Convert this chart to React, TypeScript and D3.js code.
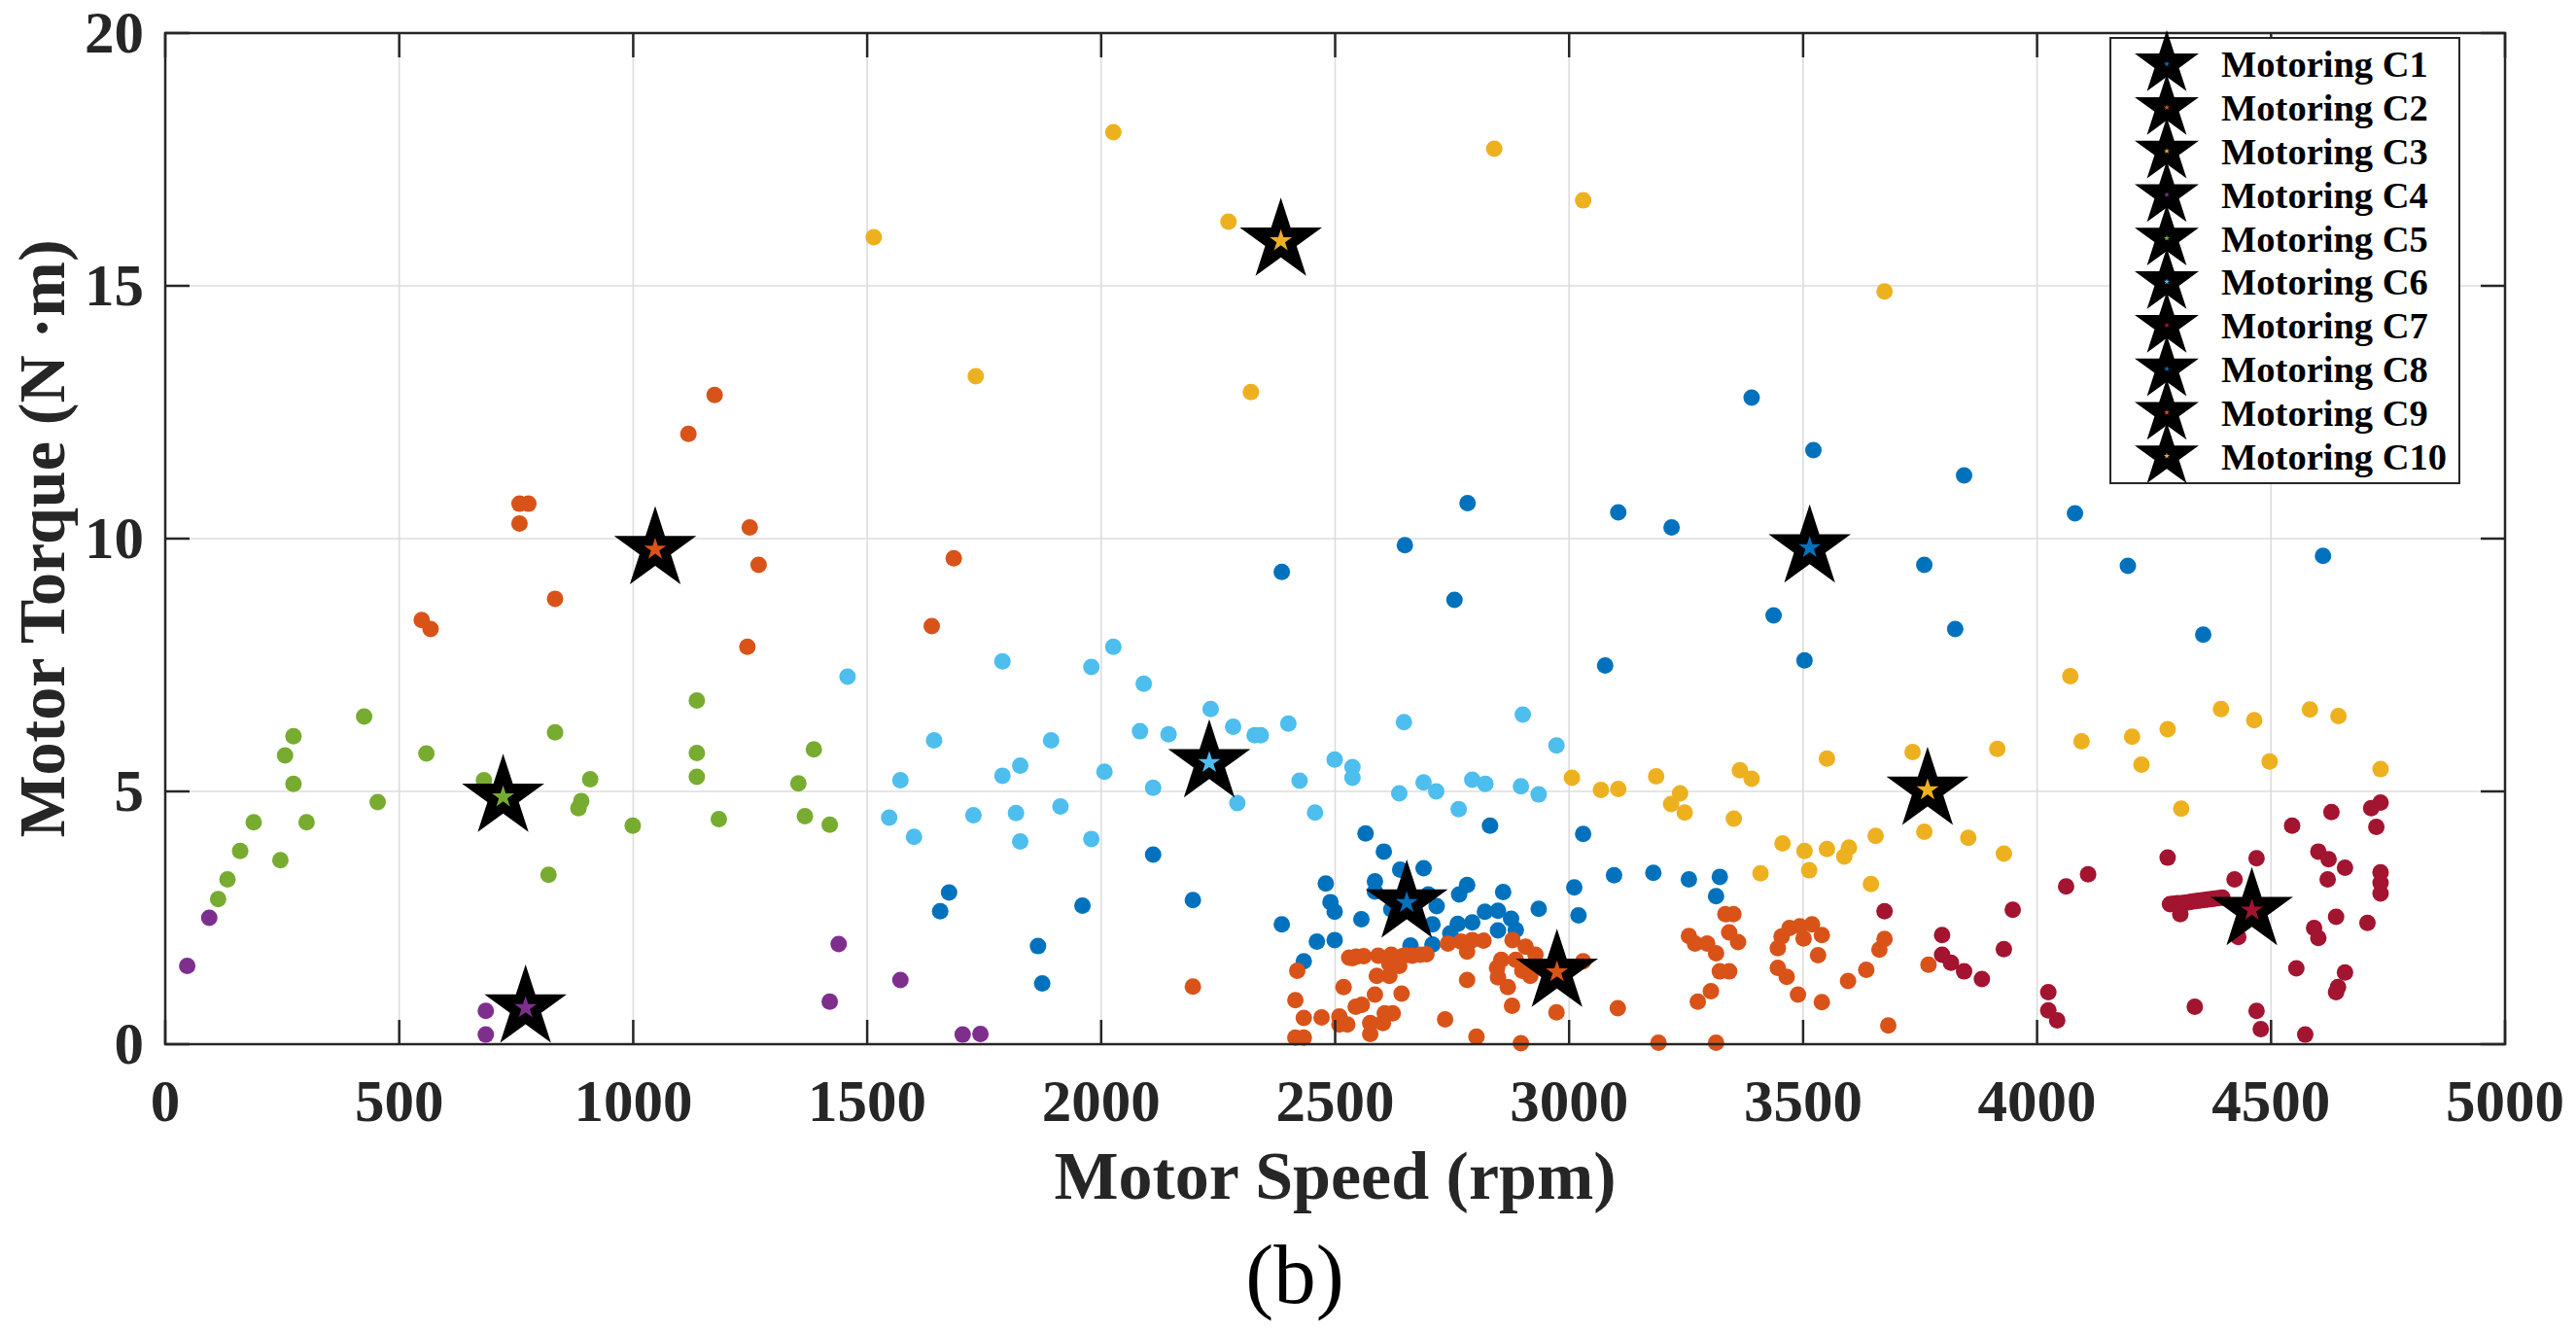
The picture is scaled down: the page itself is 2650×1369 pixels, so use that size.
import * as d3 from 'd3';
import React, { useEffect, useRef } from 'react';

// cluster labels and MATLAB default colour order (repeats after 7)
const clusterNames = ['Motoring C1', 'Motoring C2', 'Motoring C3', 'Motoring C4', 'Motoring C5',
    'Motoring C6', 'Motoring C7', 'Motoring C8', 'Motoring C9', 'Motoring C10'];
const clusterColors = ['#0072BD', '#D95319', '#EDB120', '#7E2F8E', '#77AC30',
    '#4DBEEE', '#A2142F', '#0072BD', '#D95319', '#EDB120'];

// C1 - blue, dense low cluster
const c1Speed = [1656, 1675, 1865, 1874, 1960, 2111, 2196, 2386, 2433, 2461, 2480, 2490, 2499, 2499, 2556,
    2565, 2585, 2585, 2604, 2620, 2639, 2661, 2689, 2699, 2708, 2708, 2717, 2746, 2762, 2765,
    2782, 2793, 2820, 2831, 2848, 2848, 2859, 2876, 2886, 2935, 3011, 3020, 3030, 3096, 3180,
    3256, 3314, 3322];
const c1Torque = [2.63, 3.00, 1.94, 1.20, 2.74, 3.75, 2.85, 2.37, 1.64, 2.03, 3.18, 2.81, 2.62, 2.06, 2.47,
    4.17, 3.22, 3.02, 3.81, 2.67, 3.45, 1.95, 3.48, 2.96, 2.37, 1.97, 2.73, 2.19, 2.38, 2.96,
    3.15, 2.41, 2.62, 4.32, 2.64, 2.25, 3.01, 2.48, 2.26, 2.68, 3.10, 2.55, 4.16, 3.34, 3.39,
    3.26, 2.93, 3.31];

// C2 - orange, sparse high
const c2Speed = [548, 567, 757, 757, 776, 833, 1118, 1174, 1244, 1249, 1268, 1638, 1685];
const c2Torque = [8.39, 8.21, 10.69, 10.30, 10.69, 8.81, 12.07, 12.84, 7.86, 10.22, 9.48, 8.27, 9.61];

// C3 - yellow, sparse very high
const c3Speed = [1514, 1732, 2026, 2272, 2320, 2840, 3030, 3674];
const c3Torque = [15.96, 13.21, 18.04, 16.27, 12.90, 17.71, 16.69, 14.89];

// C4 - purple
const c4Speed = [47, 94, 685, 685, 1420, 1439, 1571, 1704, 1742];
const c4Torque = [1.55, 2.50, 0.66, 0.19, 0.84, 1.98, 1.27, 0.19, 0.20];

// C5 - green
const c5Speed = [113, 133, 160, 189, 246, 256, 274, 274, 302, 425, 454, 558, 681, 819, 833,
    883, 889, 908, 999, 1136, 1136, 1136, 1183, 1353, 1367, 1386, 1420];
const c5Torque = [2.87, 3.26, 3.82, 4.39, 3.64, 5.71, 6.09, 5.15, 4.39, 6.48, 4.79, 5.75, 5.22, 3.35, 6.17,
    4.67, 4.81, 5.24, 4.32, 6.80, 5.76, 5.29, 4.45, 5.16, 4.51, 5.83, 4.34];

// C6 - light blue
const c6Speed = [1458, 1789, 1979, 2026, 2091, 2234, 2282, 2328, 2341, 2400, 2083, 2144, 1643, 1893, 1827,
    1789, 1571, 2007, 2111, 2291, 2499, 2537, 2537, 2424, 2457, 2647, 2637, 1547, 1600, 1727,
    1818, 1827, 1913, 1979, 2901, 2973, 2689, 2716, 2793, 2821, 2897, 2935, 2764];
const c6Torque = [7.27, 7.57, 7.46, 7.86, 7.13, 6.63, 6.28, 6.11, 6.11, 6.34, 6.19, 6.13, 6.01, 6.01, 5.51,
    5.31, 5.22, 5.39, 5.07, 4.77, 5.63, 5.48, 5.27, 5.21, 4.58, 6.37, 4.96, 4.48, 4.10, 4.53,
    4.57, 4.01, 4.70, 4.06, 6.52, 5.91, 5.18, 5.00, 5.23, 5.15, 5.10, 4.94, 4.65];

// C7 - dark red
const c7Speed = [3674, 3797, 3797, 3816, 3844, 3882, 3929, 3948, 4062, 4109, 4279, 4422, 4469,
    4284, 4292, 4300, 4308, 4316, 4324, 4332, 4340, 4348, 4356, 4364, 4372, 4380, 4388, 4396,
    4306, 4430, 4545, 4629, 4714, 4734, 4725, 4601, 4623, 4658, 4621, 4734, 4734, 4734, 4639,
    4706, 4592, 4601, 4554, 4658, 4643, 4639, 4024, 4024, 4043, 4337, 4469, 4478, 4573];
const c7Torque = [2.63, 2.16, 1.77, 1.61, 1.44, 1.29, 1.88, 2.66, 3.12, 3.36, 3.69, 3.26, 3.68,
    2.77, 2.78, 2.79, 2.79, 2.80, 2.81, 2.82, 2.83, 2.84, 2.85, 2.86, 2.87, 2.88, 2.89, 2.90,
    2.57, 2.12, 4.32, 4.59, 4.67, 4.78, 4.30, 3.81, 3.66, 3.49, 3.26, 3.40, 3.19, 2.98, 2.52,
    2.40, 2.30, 2.10, 1.50, 1.42, 1.13, 1.03, 1.03, 0.67, 0.47, 0.74, 0.66, 0.30, 0.19];

// C8 - blue, sparse high
const c8Speed = [2386, 2649, 2755, 2783, 3077, 3105, 3219, 3390, 3437, 3503, 3522, 3759, 3825, 3844,
    4081, 4194, 4355, 4611];
const c8Torque = [9.34, 9.87, 8.79, 10.70, 7.49, 10.52, 10.22, 12.79, 8.48, 7.59, 11.75, 9.48, 8.21, 11.25,
    10.50, 9.46, 8.10, 9.66];

// C9 - orange, dense low
const c9Speed = [2196, 2415, 2415, 2419, 2433, 2433, 2471, 2509, 2509, 2518, 2526, 2530, 2537, 2545, 2544,
    2557, 2561, 2575, 2575, 2585, 2589, 2592, 2602, 2606, 2616, 2616, 2620, 2623, 2637, 2642,
    2644, 2650, 2665, 2682, 2695, 2735, 2741, 2769, 2782, 2782, 2793, 2802, 2817, 2846, 2848,
    2855, 2869, 2878, 2879, 2886, 2897, 2900, 2907, 2917, 2928, 2973, 3030, 3104, 3191, 3256,
    3269, 3275, 3295, 3303, 3314, 3314, 3322, 3334, 3342, 3342, 3351, 3361, 3446, 3446, 3454,
    3465, 3471, 3489, 3493, 3501, 3519, 3532, 3540, 3540, 3596, 3635, 3663, 3674, 3682, 3768];
const c9Torque = [1.14, 0.87, 0.13, 1.45, 0.52, 0.13, 0.53, 0.55, 0.39, 1.13, 0.39, 1.71, 1.70, 1.73, 0.74,
    0.78, 1.74, 0.42, 0.20, 0.98, 1.35, 1.75, 0.42, 0.61, 1.35, 1.58, 1.77, 0.61, 1.55, 1.00,
    1.74, 1.76, 1.75, 1.77, 1.78, 0.49, 1.99, 2.03, 1.27, 1.83, 2.06, 0.15, 2.05, 1.51, 1.32,
    1.67, 1.13, 0.76, 2.06, 1.67, 0.02, 1.45, 1.93, 1.35, 1.77, 0.63, 1.64, 0.71, 0.03, 2.14,
    1.99, 0.84, 1.99, 1.05, 1.80, 0.03, 1.44, 2.57, 1.44, 2.21, 2.57, 2.02, 1.90, 1.51, 2.13,
    1.33, 2.30, 0.98, 2.33, 2.09, 2.37, 1.76, 2.16, 0.83, 1.25, 1.47, 1.87, 2.08, 0.37, 1.57];

// C10 - yellow, mid
const c10Speed = [3006, 3068, 3105, 3186, 3237, 3218, 3247, 3365, 3390, 3352, 3551, 3734, 3915, 3409, 3456,
    3503, 3513, 3551, 3588, 3598, 3655, 3645, 3759, 3853, 3929, 4071, 4095, 4203, 4223, 4279,
    4393, 4464, 4583, 4644, 4497, 4734, 4308];
const c10Torque = [5.27, 5.03, 5.05, 5.30, 4.96, 4.75, 4.58, 5.42, 5.25, 4.46, 5.65, 5.78, 5.84, 3.38, 3.97,
    3.82, 3.44, 3.86, 3.71, 3.89, 4.12, 3.17, 4.20, 4.08, 3.77, 7.28, 5.99, 6.08, 5.53, 6.23,
    6.63, 6.41, 6.62, 6.49, 5.59, 5.44, 4.66];

// cluster centres (stars)
const centroidSpeed = [2653, 1047, 2384, 770, 722, 2231, 4459, 3514, 2974, 3766];
const centroidTorque = [2.80, 9.79, 15.89, 0.72, 4.89, 5.57, 2.65, 9.82, 1.43, 5.03];

const font = "'Liberation Serif', 'Times New Roman', serif";
const axisColor = '#262626';

const App = () => {
    const d3Container = useRef(null);
    const width = 2650;
    const height = 1369;
    const margin = { top: 34, right: 73, bottom: 295, left: 170 };

    useEffect(() => {
        const svg = d3.select(d3Container.current);
        svg.selectAll('*').remove();

        const left = margin.left, right = width - margin.right;
        const top = margin.top, bottom = height - margin.bottom;
        const x = d3.scaleLinear().domain([0, 5000]).range([left, right]);
        const y = d3.scaleLinear().domain([0, 20]).range([bottom, top]);
        const xTicks = x.ticks(10);
        const yTicks = y.ticks(5);

        const speeds = [c1Speed, c2Speed, c3Speed, c4Speed, c5Speed, c6Speed, c7Speed, c8Speed, c9Speed, c10Speed];
        const torques = [c1Torque, c2Torque, c3Torque, c4Torque, c5Torque, c6Torque, c7Torque, c8Torque, c9Torque, c10Torque];

        // grid
        const grid = svg.append('g').attr('stroke', '#dcdcdc').attr('stroke-width', 1.6);
        grid.selectAll('.vg').data(xTicks.slice(1, -1)).enter().append('line')
            .attr('x1', d => x(d)).attr('x2', d => x(d)).attr('y1', top).attr('y2', bottom);
        grid.selectAll('.hg').data(yTicks.slice(1, -1)).enter().append('line')
            .attr('y1', d => y(d)).attr('y2', d => y(d)).attr('x1', left).attr('x2', right);

        // scatter points
        speeds.forEach((sp, i) => {
            const pts = sp.map((s, j) => [s, torques[i][j]]);
            svg.append('g').selectAll('circle').data(pts).enter().append('circle')
                .attr('cx', d => x(d[0])).attr('cy', d => y(d[1]))
                .attr('r', 8.5).attr('fill', clusterColors[i]);
        });

        // centroid stars
        const starSize = (R) => R * R / 0.8908130915292852;
        const bigStar = d3.symbol().type(d3.symbolStar).size(starSize(44.5));
        const smallStar = d3.symbol().type(d3.symbolStar).size(starSize(12));
        centroidSpeed.forEach((s, i) => {
            const g = svg.append('g')
                .attr('transform', 'translate(' + x(s) + ',' + y(centroidTorque[i]) + ')');
            g.append('path').attr('d', bigStar()).attr('fill', '#000');
            g.append('path').attr('d', smallStar()).attr('fill', clusterColors[i]);
        });

        // axes box and inward ticks
        const ax = svg.append('g').attr('stroke', axisColor).attr('stroke-width', 2.5);
        ax.append('rect').attr('x', left).attr('y', top)
            .attr('width', right - left).attr('height', bottom - top).attr('fill', 'none');
        const tl = 25;
        xTicks.forEach(t => {
            ax.append('line').attr('x1', x(t)).attr('x2', x(t)).attr('y1', bottom).attr('y2', bottom - tl);
            ax.append('line').attr('x1', x(t)).attr('x2', x(t)).attr('y1', top).attr('y2', top + tl);
        });
        yTicks.forEach(t => {
            ax.append('line').attr('y1', y(t)).attr('y2', y(t)).attr('x1', left).attr('x2', left + tl);
            ax.append('line').attr('y1', y(t)).attr('y2', y(t)).attr('x1', right).attr('x2', right - tl);
        });

        // tick labels
        const tickFont = 61;
        svg.append('g').selectAll('text').data(xTicks).enter().append('text')
            .attr('x', d => x(d)).attr('y', bottom + 79)
            .attr('text-anchor', 'middle').attr('font-family', font).attr('font-weight', 'bold')
            .attr('font-size', tickFont).attr('fill', axisColor).text(d => d);
        svg.append('g').selectAll('text').data(yTicks).enter().append('text')
            .attr('x', left - 22).attr('y', d => y(d) + 20)
            .attr('text-anchor', 'end').attr('font-family', font).attr('font-weight', 'bold')
            .attr('font-size', tickFont).attr('fill', axisColor).text(d => d);

        // axis labels
        svg.append('text').attr('x', (left + right) / 2).attr('y', 1233)
            .attr('text-anchor', 'middle').attr('font-family', font).attr('font-weight', 'bold')
            .attr('font-size', 70).attr('fill', axisColor).text('Motor Speed (rpm)');
        svg.append('text').attr('transform', 'translate(66,' + ((top + bottom) / 2) + ') rotate(-90)')
            .attr('text-anchor', 'middle').attr('font-family', font).attr('font-weight', 'bold')
            .attr('font-size', 68).attr('fill', axisColor).text('Motor Torque (N \u00B7m)');

        // subfigure tag
        svg.append('text').attr('x', 1332).attr('y', 1340)
            .attr('text-anchor', 'middle').attr('font-family', font)
            .attr('font-size', 87).attr('fill', '#000').text('(b)');

        // legend
        const lg = svg.append('g');
        lg.append('rect').attr('x', 2171).attr('y', 39).attr('width', 359).attr('height', 458)
            .attr('fill', '#fff').attr('stroke', axisColor).attr('stroke-width', 2);
        const legStar = d3.symbol().type(d3.symbolStar).size(starSize(34.7));
        const legDot = d3.symbol().type(d3.symbolStar).size(starSize(3.2));
        clusterNames.forEach((name, i) => {
            const cy = 65.8 + i * 44.8;
            const g = lg.append('g').attr('transform', 'translate(2229,' + cy + ')');
            g.append('path').attr('d', legStar()).attr('fill', '#000');
            g.append('path').attr('d', legDot()).attr('fill', clusterColors[i]);
            lg.append('text').attr('x', 2285).attr('y', cy + 13.5)
                .attr('font-family', font).attr('font-weight', 'bold').attr('font-size', 38.5)
                .attr('fill', '#000').text(name);
        });
    }, []);

    return (
        <svg ref={d3Container} width={width} height={height}
            style={{ position: 'absolute', left: 0, top: 0, background: '#fff' }}>
        </svg>
    );
};

export default App;
